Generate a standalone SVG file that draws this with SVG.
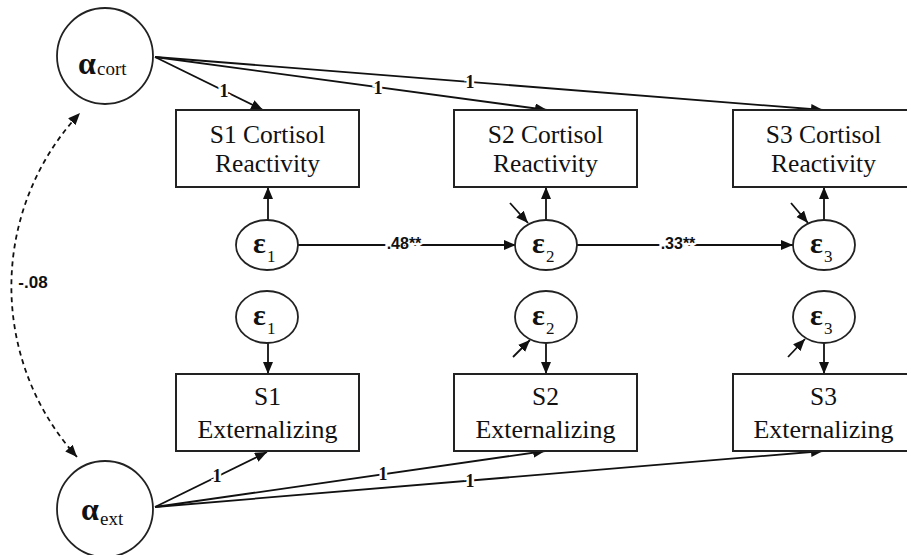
<svg xmlns="http://www.w3.org/2000/svg" width="907" height="555" viewBox="0 0 907 555">
<defs>
<marker id="ah" markerUnits="userSpaceOnUse" markerWidth="14" markerHeight="12" refX="12" refY="5" orient="auto-start-reverse">
<path d="M0,0 L12,5 L0,10 Z" fill="#111"/>
</marker>
</defs>
<style>
.box{fill:#fff;stroke:#222;stroke-width:2}
.lat{fill:#fff;stroke:#222;stroke-width:1.8}
.bt{font-family:"Liberation Serif","Times New Roman","DejaVu Serif",serif;font-size:25.5px;fill:#111;text-anchor:middle}
.gk{font-family:"Liberation Serif","Times New Roman","DejaVu Serif",serif;font-weight:bold;fill:#111}
.sub{font-family:"Liberation Serif","Times New Roman","DejaVu Serif",serif;fill:#111}
.ln{fill:none;stroke:#111;stroke-width:1.8;marker-end:url(#ah)}
.lb{font-family:"Liberation Sans",Arial,sans-serif;font-weight:bold;font-size:16px;fill:#111;text-anchor:middle;stroke:#fff;stroke-width:5;paint-order:stroke}
.one{font-family:"Liberation Serif","Times New Roman",serif;font-weight:bold;font-size:18px;fill:#111;text-anchor:middle;stroke:#fff;stroke-width:5;paint-order:stroke}
</style>
<rect width="907" height="555" fill="#fff"/>
<g id="connectors">
<line class="ln" x1="155" y1="57" x2="263" y2="110"/>
<line class="ln" x1="155" y1="57" x2="547" y2="110"/>
<line class="ln" x1="155" y1="57" x2="823" y2="110"/>
<line class="ln" x1="155" y1="507" x2="267" y2="452"/>
<line class="ln" x1="155" y1="507" x2="545" y2="451"/>
<line class="ln" x1="155" y1="507" x2="823" y2="451"/>
<line class="ln" x1="268" y1="220" x2="268" y2="187"/>
<line class="ln" x1="546" y1="220" x2="546" y2="187"/>
<line class="ln" x1="824" y1="220" x2="824" y2="187"/>
<line class="ln" x1="268" y1="343" x2="268" y2="374"/>
<line class="ln" x1="546" y1="343" x2="546" y2="374"/>
<line class="ln" x1="824" y1="343" x2="824" y2="374"/>
<line class="ln" x1="298" y1="245" x2="516" y2="245"/>
<line class="ln" x1="577" y1="245" x2="793" y2="245"/>
<line class="ln" x1="510" y1="203" x2="528" y2="223"/>
<line class="ln" x1="791" y1="203" x2="808" y2="223"/>
<line class="ln" x1="513" y1="357" x2="530" y2="340"/>
<line class="ln" x1="788" y1="357" x2="805" y2="339"/>
<path d="M77,457 A254,254 0 0 1 80,113" fill="none" stroke="#111" stroke-width="1.8" stroke-dasharray="5,4" marker-start="url(#ah)" marker-end="url(#ah)"/>
<text class="one" x="224" y="97">1</text>
<text class="one" x="378" y="94">1</text>
<text class="one" x="470" y="88">1</text>
<text class="one" x="217" y="482">1</text>
<text class="one" x="383" y="480">1</text>
<text class="one" x="470" y="487">1</text>
<text class="lb" x="404" y="249">.48**</text>
<text class="lb" x="678" y="249">.33**</text>
<text class="lb" x="33" y="288" style="stroke:none;font-size:17px">-.08</text>
</g>
<g id="a_cort">
<circle class="lat" cx="105" cy="56" r="48"/>
<text class="gk" x="78" y="74" font-size="32">α</text><text class="sub" x="97" y="75" font-size="19">cort</text>
</g>
<g id="a_ext">
<circle class="lat" cx="105" cy="509" r="48"/>
<text class="gk" x="81" y="520" font-size="32">α</text><text class="sub" x="100" y="525" font-size="19">ext</text>
</g>
<g id="s1c"><rect class="box" x="176" y="110" width="183" height="77"/><text class="bt" x="267.5" y="143">S1 Cortisol</text><text class="bt" x="267.5" y="172">Reactivity</text></g>
<g id="s2c"><rect class="box" x="454" y="110" width="183" height="77"/><text class="bt" x="545.5" y="143">S2 Cortisol</text><text class="bt" x="545.5" y="172">Reactivity</text></g>
<g id="s3c"><rect class="box" x="733" y="110" width="183" height="77"/><text class="bt" x="823.5" y="143">S3 Cortisol</text><text class="bt" x="823.5" y="172">Reactivity</text></g>
<g id="s1e"><rect class="box" x="176" y="374" width="183" height="77"/><text class="bt" x="267.5" y="405">S1</text><text class="bt" x="267.5" y="438" textLength="140" lengthAdjust="spacingAndGlyphs">Externalizing</text></g>
<g id="s2e"><rect class="box" x="454" y="374" width="183" height="77"/><text class="bt" x="545.5" y="405">S2</text><text class="bt" x="545.5" y="438" textLength="140" lengthAdjust="spacingAndGlyphs">Externalizing</text></g>
<g id="s3e"><rect class="box" x="733" y="374" width="183" height="77"/><text class="bt" x="823.5" y="405">S3</text><text class="bt" x="823.5" y="438" textLength="140" lengthAdjust="spacingAndGlyphs">Externalizing</text></g>
<g id="e1c"><ellipse class="lat" cx="267" cy="245" rx="31" ry="25"/><text class="gk" x="253" y="253" font-size="30">ε</text><text class="sub" x="267" y="262" font-size="17">1</text></g>
<g id="e2c"><ellipse class="lat" cx="546" cy="245" rx="31" ry="25"/><text class="gk" x="532" y="253" font-size="30">ε</text><text class="sub" x="546" y="262" font-size="17">2</text></g>
<g id="e3c"><ellipse class="lat" cx="824" cy="245" rx="31" ry="25"/><text class="gk" x="810" y="253" font-size="30">ε</text><text class="sub" x="824" y="262" font-size="17">3</text></g>
<g id="e1e"><ellipse class="lat" cx="267" cy="317" rx="31" ry="26"/><text class="gk" x="253" y="325" font-size="30">ε</text><text class="sub" x="267" y="334" font-size="17">1</text></g>
<g id="e2e"><ellipse class="lat" cx="546" cy="317" rx="31" ry="26"/><text class="gk" x="532" y="325" font-size="30">ε</text><text class="sub" x="546" y="334" font-size="17">2</text></g>
<g id="e3e"><ellipse class="lat" cx="824" cy="317" rx="31" ry="26"/><text class="gk" x="810" y="325" font-size="30">ε</text><text class="sub" x="824" y="334" font-size="17">3</text></g>
</svg>
